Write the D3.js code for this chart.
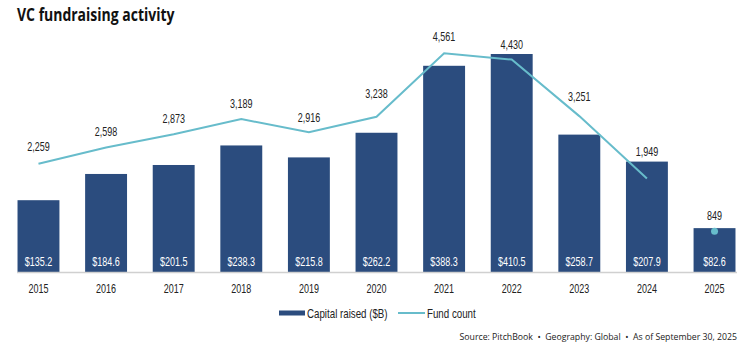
<!DOCTYPE html>
<html><head><meta charset="utf-8">
<script src="https://cdn.jsdelivr.net/npm/d3@7"></script>
<style>
body{margin:0;background:#fff;}
text{font-family:"Liberation Sans",Arial,sans-serif;}
</style></head>
<body>
<svg id="c" width="749" height="353"></svg>
<script>
const years = ["2015","2016","2017","2018","2019","2020","2021","2022","2023","2024","2025"];
const capital = [135.2,184.6,201.5,238.3,215.8,262.2,388.3,410.5,258.7,207.9,82.6];
const fundCount = [2259,2598,2873,3189,2916,3238,4561,4430,3251,1949,849];
const title = "VC fundraising activity";
const legendLabels = ["Capital raised ($B)","Fund count"];
const source = "Source: PitchBook  •  Geography: Global  •  As of September 30, 2025";
// label placement gap above each fund-count point (layout only)
const labelGap = [12.5,11,11,11,10,19,12,11,15,23,11];

const barColor = "#2b4c7e", lineColor = "#67bccb", textColor = "#222";
const SX = 0.72;
const svg = d3.select("#c");
const x = d3.scaleBand().domain(years).range([4, 749]).paddingInner(0.38).paddingOuter(0.2);
const yBar = d3.scaleLinear().domain([0, 410.5]).range([272, 54]);
const yLine = d3.scaleLinear().domain([0, 4561]).range([272, 53.3]);
const cx = d=>x(d)+x.bandwidth()/2;

function addText(parent, px, py, str, sx, size, anchor, fill, extra){
  const g = parent.append("g").attr("transform",`translate(${px},${py})`);
  const t = g.append("text").attr("transform",`scale(${sx},1)`).attr("text-anchor",anchor||"start")
    .attr("fill",fill||textColor).style("font-size",size+"px").attr("xml:space","preserve").text(str);
  if(extra) extra(t);
  return t;
}

addText(svg,17,21,title,0.8,17.5,"start","#111",t=>t.style("font-family","'Open Sans',sans-serif").style("font-weight","700"));

svg.selectAll("rect.bar").data(years).join("rect").attr("class","bar")
  .attr("x",d=>x(d)).attr("width",x.bandwidth())
  .attr("y",(d,i)=>yBar(capital[i])).attr("height",(d,i)=>yBar(0)-yBar(capital[i]))
  .attr("fill",barColor);

years.forEach((d,i)=>addText(svg,cx(d),266,"$"+capital[i].toFixed(1),SX,12.5,"middle","#fff"));

// axis
const axis = d3.axisBottom(x).tickSize(0).tickPadding(12);
const ag = svg.append("g").attr("transform","translate(0,272.5)").call(axis);
ag.select(".domain").attr("stroke","#d0d0d0").attr("stroke-width",1.5).attr("d","M17,0H737");
ag.selectAll("text").style("font-size","12.5px").attr("fill",textColor)
  .style("font-family","'Liberation Sans',Arial,sans-serif").attr("transform",`scale(${SX},1)`);

const line = d3.line().x(d=>cx(d)).y(d=>yLine(fundCount[years.indexOf(d)]));
svg.append("path").datum(years.slice(0,10)).attr("d",line)
  .attr("fill","none").attr("stroke",lineColor).attr("stroke-width",2);
svg.append("circle").attr("cx",cx("2025")).attr("cy",yLine(fundCount[10])).attr("r",3.5).attr("fill",lineColor);

years.forEach((d,i)=>addText(svg,cx(d),yLine(fundCount[i])-labelGap[i],d3.format(",")(fundCount[i]),SX,12.5,"middle",textColor));

// legend
svg.append("rect").attr("x",279).attr("y",310.5).attr("width",26).attr("height",5).attr("fill",barColor);
addText(svg,307,317.5,legendLabels[0],0.78,12.5,"start",textColor);
svg.append("line").attr("x1",398).attr("x2",425).attr("y1",313).attr("y2",313).attr("stroke",lineColor).attr("stroke-width",2);
addText(svg,427,317.5,legendLabels[1],0.78,12.5,"start",textColor);

addText(svg,737,340,source,0.92,9.5,"end",textColor,t=>t.style("font-family","'Open Sans',sans-serif"));
</script>
</body></html>
